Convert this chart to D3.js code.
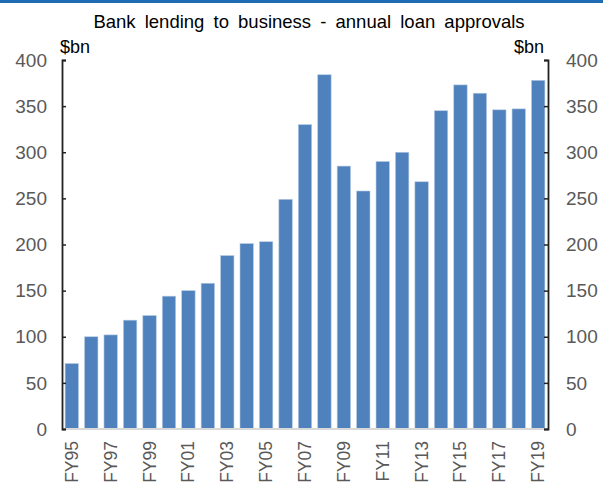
<!DOCTYPE html>
<html>
<head>
<meta charset="utf-8">
<script src="https://cdn.jsdelivr.net/npm/d3@7"></script>
<style>
  html, body { margin: 0; padding: 0; background: #fff; overflow: hidden; }
  svg { display: block; font-family: "Liberation Sans", Arial, sans-serif; }
</style>
</head>
<body>
<svg id="chart" width="603" height="485"></svg>
<script>
const categories = ["FY95","FY96","FY97","FY98","FY99","FY00","FY01","FY02","FY03","FY04","FY05","FY06","FY07","FY08","FY09","FY10","FY11","FY12","FY13","FY14","FY15","FY16","FY17","FY18","FY19"];
const loanApprovals = [71,100,102,118,123,144,150,158,188,201,203,249,330,384,285,258,290,300,268,345,373,364,346,347,378];
const yTicks = [0,50,100,150,200,250,300,350,400];
const title = "Bank lending to business - annual loan approvals";
const unitLabel = "$bn";

const svg = d3.select("#chart");
const W = 603, H = 485;
const m = {left: 62, right: 55, top: 60, bottom: 56};

// top border line
svg.append("rect").attr("x", 0).attr("y", 0).attr("width", W).attr("height", 3).attr("fill", "#1f6cb4");

const x = d3.scaleBand().domain(categories).range([m.left, W - m.right]).paddingInner(0.31).paddingOuter(0.16);
const y = d3.scaleLinear().domain([0, 400]).range([H - m.bottom, m.top]);

// bars
svg.append("g").selectAll("rect").data(loanApprovals).join("rect")
  .attr("x", (d, i) => x(categories[i]))
  .attr("y", d => y(d))
  .attr("width", x.bandwidth())
  .attr("height", d => y(0) - y(d))
  .attr("fill", "#4f81bd")
  .attr("stroke", "#b8cce4")
  .attr("stroke-width", 0.6);

// baseline
svg.append("line").attr("x1", m.left).attr("x2", W - m.right)
  .attr("y1", y(0)).attr("y2", y(0)).attr("stroke", "#d9d9d9").attr("stroke-width", 2);

// left axis
const leftAxis = svg.append("g").attr("transform", `translate(${m.left},0)`)
  .call(d3.axisRight(y).tickValues(yTicks).tickSize(4).tickSizeOuter(4).tickFormat(""));
leftAxis.select(".domain").attr("stroke", "#222").attr("stroke-width", 1.8);
leftAxis.selectAll(".tick line").attr("stroke", "#222").attr("stroke-width", 1.5);

svg.append("g").selectAll("text").data(yTicks).join("text")
  .attr("x", 47).attr("y", d => y(d)).attr("dy", "0.35em")
  .attr("text-anchor", "end").attr("fill", "#595959").attr("font-size", 19)
  .text(d => d);

// right axis
const rightAxis = svg.append("g").attr("transform", `translate(${W - m.right},0)`)
  .call(d3.axisLeft(y).tickValues(yTicks).tickSize(4).tickSizeOuter(4).tickFormat(""));
rightAxis.select(".domain").attr("stroke", "#222").attr("stroke-width", 1.8);
rightAxis.selectAll(".tick line").attr("stroke", "#222").attr("stroke-width", 1.5);

svg.append("g").selectAll("text").data(yTicks).join("text")
  .attr("x", 566).attr("y", d => y(d)).attr("dy", "0.35em")
  .attr("text-anchor", "start").attr("fill", "#595959").attr("font-size", 19)
  .text(d => d);

// x labels (every other)
svg.append("g").selectAll("text").data(categories.filter((c, i) => i % 2 === 0)).join("text")
  .attr("transform", d => `translate(${x(d) + x.bandwidth() / 2 + 6},441) rotate(-90)`)
  .attr("text-anchor", "end").attr("fill", "#595959").attr("font-size", 17.5)
  .text(d => d);

// unit labels
svg.append("text").attr("x", 60).attr("y", 53).attr("fill", "#000").attr("font-size", 18).text(unitLabel);
svg.append("text").attr("x", 544).attr("y", 53).attr("text-anchor", "end").attr("fill", "#000").attr("font-size", 18).text(unitLabel);

// title
svg.append("text").attr("x", 309).attr("y", 28).attr("text-anchor", "middle")
  .attr("fill", "#000").attr("font-size", 18.5)
  .attr("word-spacing", 4).text(title);
</script>
</body>
</html>
